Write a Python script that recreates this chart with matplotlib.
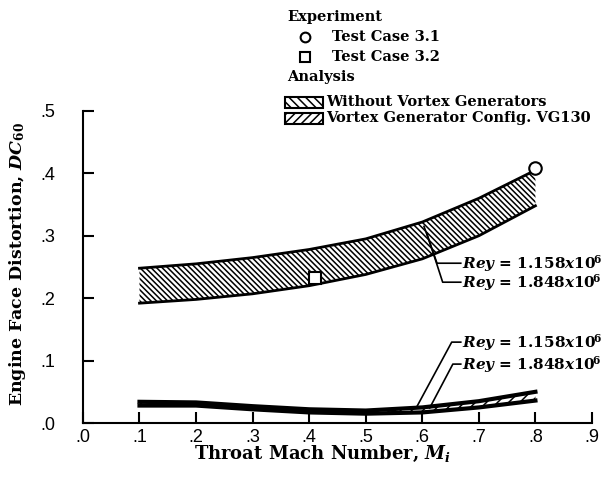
import matplotlib
matplotlib.use("Agg")
import matplotlib.pyplot as plt
from matplotlib.patches import Rectangle
from matplotlib.lines import Line2D

plt.rcParams['font.family'] = ['DejaVu Serif']
plt.rcParams['font.weight'] = 'bold'
plt.rcParams['mathtext.fontset'] = 'custom'
plt.rcParams['mathtext.rm'] = 'DejaVu Serif:bold'
plt.rcParams['mathtext.it'] = 'DejaVu Serif:italic:bold'
plt.rcParams['mathtext.bf'] = 'DejaVu Serif:bold'
plt.rcParams['hatch.linewidth'] = 1.1

# band without vortex generators
mach = [0.1, 0.2, 0.3, 0.4, 0.5, 0.6, 0.7, 0.8]
novg_top = [0.248, 0.255, 0.265, 0.278, 0.295, 0.322, 0.360, 0.405]
novg_bot = [0.192, 0.198, 0.207, 0.220, 0.238, 0.263, 0.300, 0.348]

# band with vortex generator config VG130
vg_top = [0.034, 0.033, 0.027, 0.022, 0.020, 0.025, 0.035, 0.050]
vg_bot = [0.028, 0.028, 0.022, 0.017, 0.015, 0.017, 0.025, 0.036]

# experiment
case31_m = [0.80]
case31_d = [0.408]
case32_m = [0.41]
case32_d = [0.233]

xticks = [0.0, 0.1, 0.2, 0.3, 0.4, 0.5, 0.6, 0.7, 0.8, 0.9]
xlabels = ['.0', '.1', '.2', '.3', '.4', '.5', '.6', '.7', '.8', '.9']
yticks = [0.0, 0.1, 0.2, 0.3, 0.4, 0.5]
ylabels = ['.0', '.1', '.2', '.3', '.4', '.5']

fig = plt.figure(figsize=(6.01, 4.78), dpi=100)
ax = fig.add_axes([0.138, 0.115, 0.847, 0.653])

ax.fill_between(mach, novg_bot, novg_top, facecolor='white', edgecolor='black',
                hatch='\\\\\\\\\\\\', linewidth=0)
ax.plot(mach, novg_top, color='black', lw=2)
ax.plot(mach, novg_bot, color='black', lw=2)

ax.fill_between(mach, vg_bot, vg_top, facecolor='white', edgecolor='black',
                hatch='///', linewidth=0)
ax.plot(mach, vg_top, color='black', lw=3)
ax.plot(mach, vg_bot, color='black', lw=3)

ax.plot(case31_m, case31_d, 'o', ms=9, mfc='white', mec='black', mew=1.5, clip_on=False, zorder=5)
ax.plot(case32_m, case32_d, 's', ms=8, mfc='white', mec='black', mew=1.5, clip_on=False, zorder=5)

# Reynolds number leaders
rey1 = r'$Rey$ = 1.158$x$10$^{\!6}$'
rey2 = r'$Rey$ = 1.848$x$10$^{\!6}$'
ax.plot([0.603, 0.626, 0.668], [0.315, 0.256, 0.256], color='black', lw=1.2)
ax.plot([0.608, 0.636, 0.668], [0.304, 0.2256, 0.2256], color='black', lw=1.2)
ax.text(0.670, 0.256, rey1, fontsize=11, va='center')
ax.text(0.670, 0.2256, rey2, fontsize=11, va='center')
ax.plot([0.590, 0.652, 0.668], [0.0256, 0.1296, 0.1296], color='black', lw=1.2)
ax.plot([0.613, 0.654, 0.668], [0.024, 0.0944, 0.0944], color='black', lw=1.2)
ax.text(0.670, 0.1296, rey1, fontsize=11, va='center')
ax.text(0.670, 0.0944, rey2, fontsize=11, va='center')

ax.set_xlim(0, 0.9)
ax.set_ylim(0, 0.5)
ax.set_xticks(xticks)
ax.set_xticklabels(xlabels)
ax.set_yticks(yticks)
ax.set_yticklabels(ylabels)
for s in ['top', 'right']:
    ax.spines[s].set_visible(False)
for s in ['left', 'bottom']:
    ax.spines[s].set_linewidth(1.5)
ax.tick_params(axis='both', direction='in', length=8, width=1.5, labelsize=13)
ax.tick_params(axis='y', pad=20)
ax.tick_params(axis='x', pad=4)
for lab in ax.get_xticklabels() + ax.get_yticklabels():
    lab.set_family('Liberation Sans')
    lab.set_weight('normal')

ax.set_xlabel(r'Throat Mach Number, $M_i$', fontsize=13, fontweight='bold')
ax.xaxis.set_label_coords(0.47, -0.068)
ax.set_ylabel(r'Engine Face Distortion, $DC_{60}$', fontsize=12.5, fontweight='bold')
ax.yaxis.set_label_coords(-0.108, 0.51)

# legend block
W, H = 601.0, 478.0
def fx(px):
    return px / W
def fy(py):
    return 1 - py / H

fs = 10.5
fig.text(fx(287), fy(17), 'Experiment', fontsize=fs, va='center')
fig.add_artist(Line2D([fx(305)], [fy(37)], marker='o', ms=7, mfc='white', mec='black', mew=1.5))
fig.text(fx(332), fy(37), 'Test Case 3.1', fontsize=fs, va='center')
fig.add_artist(Line2D([fx(305)], [fy(57)], marker='s', ms=7, mfc='white', mec='black', mew=1.5))
fig.text(fx(332), fy(57), 'Test Case 3.2', fontsize=fs, va='center')
fig.text(fx(287), fy(77), 'Analysis', fontsize=fs, va='center')

fig.add_artist(Rectangle((fx(285), fy(108)), 38 / W, 11 / H, transform=fig.transFigure,
                         facecolor='white', edgecolor='black', hatch='\\\\\\\\', lw=1.5))
fig.text(fx(326), fy(102), 'Without Vortex Generators', fontsize=fs, va='center')
fig.add_artist(Rectangle((fx(285), fy(124)), 38 / W, 11 / H, transform=fig.transFigure,
                         facecolor='white', edgecolor='black', hatch='////', lw=1.5))
fig.text(fx(326), fy(118), 'Vortex Generator Config. VG130', fontsize=fs, va='center')

fig.savefig('out.png', dpi=100)
